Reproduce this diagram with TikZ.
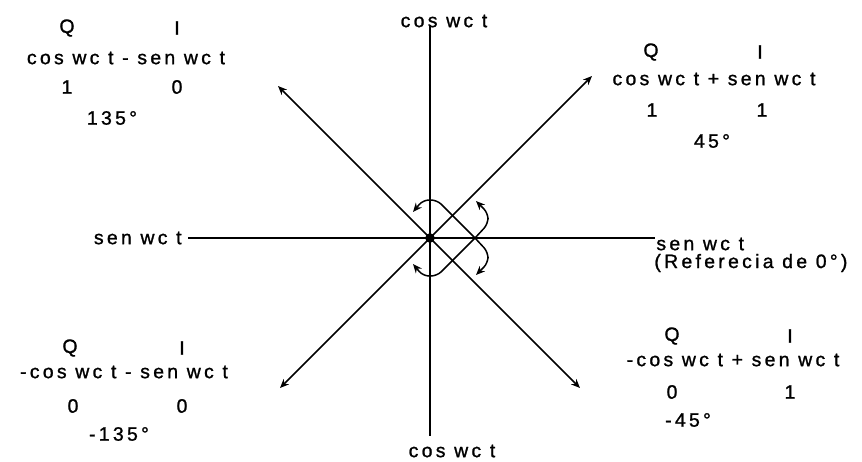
\documentclass[tikz,border=0pt]{standalone}
\usepackage{fontspec}
\setmainfont{Liberation Sans}[LetterSpace=17,FakeBold=1.2]
\usetikzlibrary{arrows.meta}

\begin{document}
\begin{tikzpicture}[x=0.5pt,y={(0,-0.5pt)},>={Stealth[length=4.5pt,width=3.8pt]},
  lbl/.style={inner sep=0pt,font=\fontsize{9.7}{11}\selectfont},
  eje/.style={line width=0.75pt},
  giro/.style={line width=0.75pt,rounded corners=3pt,->}]
\useasboundingbox (0,0) rectangle (862,461);
% ejes
\coordinate (O) at (430,238);
\node[lbl] (cosArr) at (444,21) {cos wc t};
\node[lbl] (cosAb) at (452,451) {cos wc t};
\node[lbl,anchor=east] (senIz) at (182,238) {sen wc t};
\node[lbl,anchor=west] (senDe) at (656,244) {sen wc t};
\node[lbl,anchor=west] (refDe) at (654,263) {(Referecia de 0°)};
\coordinate (ejeN) at (430,25); \coordinate (ejeS) at (430,436);
\coordinate (ejeW) at (188,238); \coordinate (ejeE) at (655,238);
\draw[eje] (ejeN)--(ejeS); \draw[eje] (ejeW)--(ejeE);
% diagonales
\coordinate (dNE) at (592,76); \coordinate (dNW) at (278,86);
\coordinate (dSW) at (280,388); \coordinate (dSE) at (580,388);
\draw[eje,->] (O)--(dNE); \draw[eje,->] (O)--(dNW);
\draw[eje,->] (O)--(dSW); \draw[eje,->] (O)--(dSE);
\fill (O) circle (2.4pt);
% giros
\coordinate (rv) at (475,238);
\draw[giro] (rv)--(437,200)--(423,200)--(413,212);
\draw[giro] (rv)--(437,276)--(423,276)--(413,264);
\draw[giro] (rv)--(488,224)--(488,213)--(476,201);
\draw[giro] (rv)--(488,252)--(488,263)--(476,275);
% 135
\begin{scope}[shift={(126,58)}]
\node[lbl] (qA) at (-59,-30) {Q};
\node[lbl] (iA) at (51,-30) {I};
\node[lbl] (fA) at (0,0) {cos wc t - sen wc t};
\node[lbl] (bqA) at (-59,29) {1};
\node[lbl] (biA) at (51,29) {0};
\node[lbl] (gA) at (-14,60) {135°};
\end{scope}
% 45
\begin{scope}[shift={(714,79)}]
\node[lbl] (qB) at (-63,-27) {Q};
\node[lbl] (iB) at (46,-27) {I};
\node[lbl] (fB) at (0,0) {cos wc t + sen wc t};
\node[lbl] (bqB) at (-62,31) {1};
\node[lbl] (biB) at (48,31) {1};
\node[lbl] (gB) at (-2,62) {45°};
\end{scope}
% -135
\begin{scope}[shift={(124,372)}]
\node[lbl] (qC) at (-54,-24) {Q};
\node[lbl] (iC) at (58,-24) {I};
\node[lbl] (fC) at (0,0) {-cos wc t - sen wc t};
\node[lbl] (bqC) at (-51,34) {0};
\node[lbl] (biC) at (58,34) {0};
\node[lbl] (gC) at (-5,62) {-135°};
\end{scope}
% -45
\begin{scope}[shift={(733,360)}]
\node[lbl] (qD) at (-61,-24) {Q};
\node[lbl] (iD) at (57,-24) {I};
\node[lbl] (fD) at (0,0) {-cos wc t + sen wc t};
\node[lbl] (bqD) at (-61,32) {0};
\node[lbl] (biD) at (57,32) {1};
\node[lbl] (gD) at (-45,60) {-45°};
\end{scope}
\end{tikzpicture}
\end{document}
